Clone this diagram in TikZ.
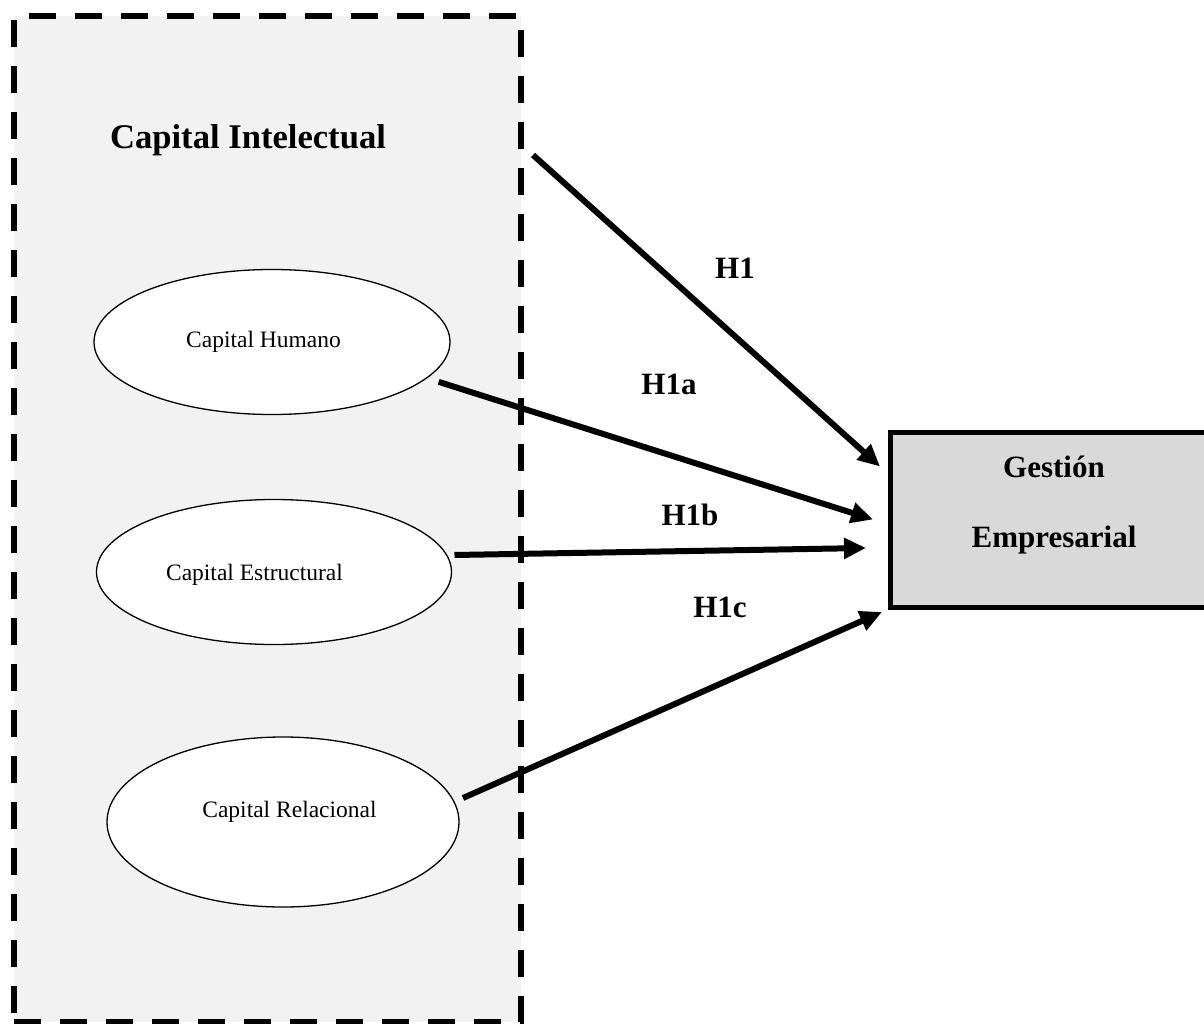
\documentclass[tikz,border=0pt]{standalone}
\usepackage{fontspec}
\setmainfont{Liberation Serif}
\usetikzlibrary{arrows.meta,shapes.geometric}
\definecolor{panelgray}{HTML}{F2F2F2}
\definecolor{boxgray}{HTML}{D9D9D9}
\begin{document}
\begin{tikzpicture}[x=1pt,y=-1pt,
  container/.style={draw=black,line width=6pt,dash pattern=on 27pt off 19pt,fill=panelgray,minimum width=507pt,minimum height=1006pt,inner sep=0pt,outer sep=0pt},
  title/.style={font=\bfseries\fontsize{34.6}{40}\selectfont,inner sep=0pt},
  construct/.style={ellipse,draw=black,line width=1.3pt,fill=white,inner sep=0pt,outer sep=0pt},
  smalltext/.style={font=\fontsize{23.5}{28}\selectfont,inner sep=0pt},
  outcome/.style={draw=black,line width=5pt,fill=boxgray,minimum width=320pt,minimum height=175pt,inner sep=0pt,outer sep=0pt},
  bigtext/.style={font=\bfseries\fontsize{31}{36}\selectfont,inner sep=0pt},
  hyp/.style={font=\bfseries\fontsize{31}{36}\selectfont,inner sep=0pt},
  arr/.style={line width=6pt,-{Triangle[length=22pt,width=20pt]}}
]
\useasboundingbox (0,0) rectangle (1204,1024);
\node[container] (ci) at (267.5,519) {};
\node[title] (citxt) at (248,140) {Capital Intelectual};

\node[construct,minimum width=356pt,minimum height=145pt] (hum) at (272,342) {};
\node[smalltext] (humtxt) at (263.5,342) {Capital Humano};
\node[construct,minimum width=355pt,minimum height=145pt] (est) at (274,572) {};
\node[smalltext] (esttxt) at (254.5,575) {Capital Estructural};
\node[construct,minimum width=352pt,minimum height=170pt] (rel) at (283,822) {};
\node[smalltext] (reltxt) at (289.5,812) {Capital Relacional};

\node[outcome] (ge) at (1050,519.5) {};
\node[bigtext] (getxt1) at (1054,467) {Gestión};
\node[bigtext] (getxt2) at (1054,540) {Empresarial};

\coordinate (h1s) at (533,155);
\draw[arr] (h1s) -- ([xshift=-10pt,yshift=53pt]ge.west);
\draw[arr] ([xshift=18pt]hum.-15) -- ([xshift=-17pt]ge.west);
\draw[arr] ([xshift=3pt,yshift=17pt]est.east) -- ([xshift=-24pt,yshift=-28.5pt]ge.west);
\draw[arr] ([xshift=4pt,yshift=24pt]rel.east) -- ([xshift=-8pt,yshift=-5pt]ge.south west);

\node[hyp] (lh1) at (735,268) {H1};
\node[hyp] (lh1a) at (669,384) {H1a};
\node[hyp] (lh1b) at (690,515) {H1b};
\node[hyp] (lh1c) at (720,607) {H1c};
\end{tikzpicture}
\end{document}
